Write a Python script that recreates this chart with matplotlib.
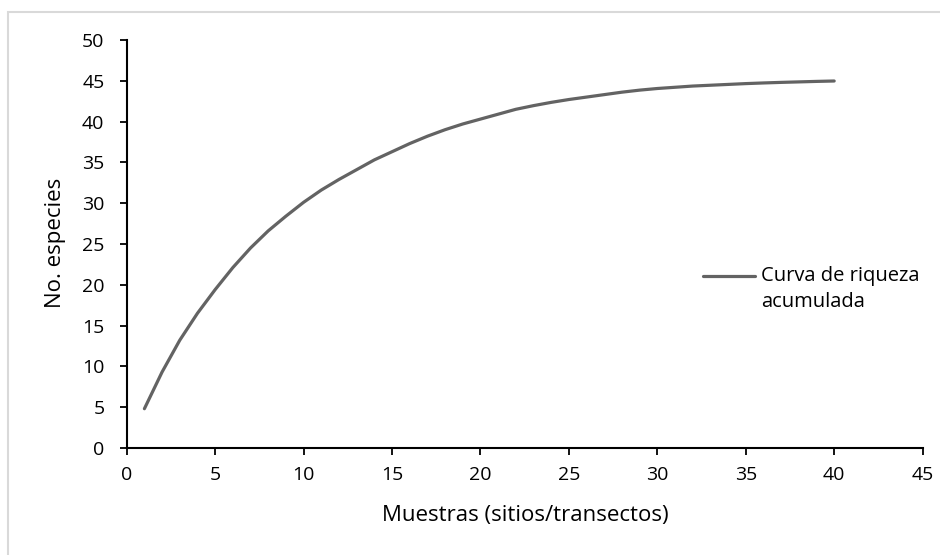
import matplotlib
matplotlib.use("Agg")
import numpy as np
import matplotlib.pyplot as plt
from matplotlib.patches import Rectangle
from matplotlib.legend_handler import HandlerLine2D

# accumulated richness curve
muestras = list(range(1, 41))
especies = [4.8, 9.3, 13.2, 16.5, 19.4, 22.1, 24.5, 26.6, 28.4, 30.1,
            31.6, 32.9, 34.1, 35.3, 36.3, 37.3, 38.2, 39.0, 39.7, 40.3,
            40.9, 41.5, 41.95, 42.35, 42.7, 43.0, 43.3, 43.6, 43.85, 44.05,
            44.2, 44.35, 44.45, 44.55, 44.65, 44.73, 44.8, 44.86, 44.92, 44.97]
serie_label = "Curva de riqueza\nacumulada"
x_ticks = list(range(0, 50, 5))
y_ticks = list(range(0, 55, 5))


class FirstLineHandler(HandlerLine2D):
    """Legend sample lined up with the first line of a two-line label"""
    def create_artists(self, legend, orig_handle, xdescent, ydescent,
                       width, height, fontsize, trans):
        artists = super().create_artists(legend, orig_handle, xdescent, ydescent,
                                         width, height, fontsize, trans)
        for a in artists:
            a.set_ydata(np.asarray(a.get_ydata()) + 0.65 * fontsize)
        return artists


plt.rcParams['font.family'] = ['Open Sans', 'DejaVu Sans']

fig = plt.figure(figsize=(9.4, 5.55), dpi=100)
ax = fig.add_axes([0.1348, 0.193, 0.9815 - 0.1348, 0.928 - 0.193])

line, = ax.plot(muestras, especies, color='#636363', linewidth=2.3,
                solid_capstyle='round', label=serie_label)

ax.set_xlim(0, 45)
ax.set_ylim(0, 50)
ax.set_xticks(x_ticks)
ax.set_yticks(y_ticks)
ax.tick_params(axis='both', labelsize=14, length=5, width=1.3, color='black', direction='out')
ax.tick_params(axis='x', pad=8)
ax.tick_params(axis='y', pad=11)

for side in ['top', 'right']:
    ax.spines[side].set_visible(False)
for side in ['left', 'bottom']:
    ax.spines[side].set_linewidth(1.5)
    ax.spines[side].set_color('black')

ax.set_xlabel('Muestras (sitios/transectos)', fontsize=16)
ax.set_ylabel('No. especies', fontsize=16)
ax.xaxis.set_label_coords(525 / 940, 1 - 515 / 555, transform=fig.transFigure)
ax.yaxis.set_label_coords(55 / 940, 1 - 243 / 555, transform=fig.transFigure)
ax.xaxis.label.set_va('center')
ax.yaxis.label.set_va('center')

leg = ax.legend(loc='center left', bbox_to_anchor=(703 / 940, 1 - 289 / 555),
                bbox_transform=fig.transFigure, frameon=False, fontsize=14.5,
                handlelength=2.6, handletextpad=0.3, borderaxespad=0, borderpad=0,
                handler_map={line: FirstLineHandler()})
for t in leg.get_texts():
    t.set_linespacing(1.45)

# light grey border of the chart area (left and top visible)
fig.patches.append(Rectangle((8 / 940, -0.1), 1.0, (555 - 12) / 555 + 0.1,
                             transform=fig.transFigure, fill=False,
                             edgecolor='#d9d9d9', linewidth=1.5))

fig.savefig('out.png', dpi=100)
